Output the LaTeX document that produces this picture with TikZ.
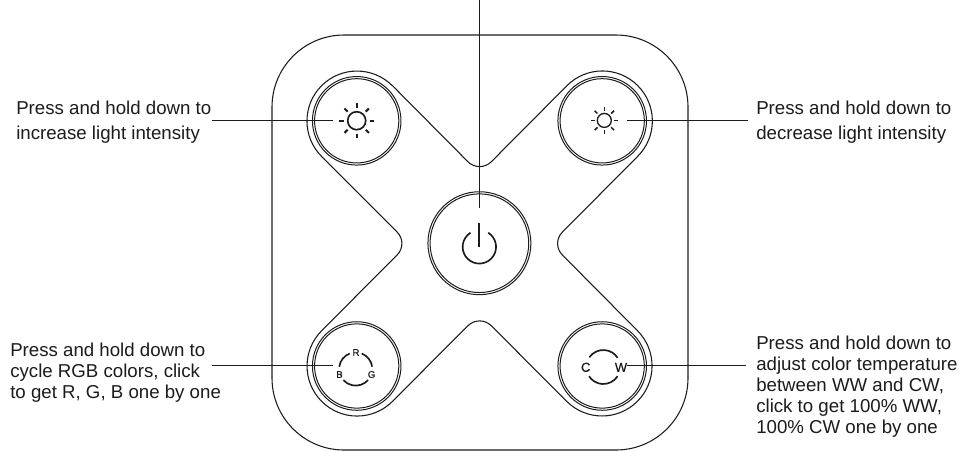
\documentclass[tikz,border=0pt]{standalone}
\usepackage{fontspec}
\setmainfont{Liberation Sans}
\newfontfamily\iconfont[FakeBold=0.5]{Liberation Sans}
\definecolor{ink}{gray}{0.11}
\tikzset{
  outline/.style={line width=0.8pt,draw=ink},
  lead/.style={line width=0.85pt,draw=ink},
  iconline/.style={line width=1.25pt,draw=ink},
  captionbase/.style={align=left,anchor=north west,inner sep=0pt,text=ink},
  caption/.style={captionbase,font=\fontsize{14pt}{15.75pt}\selectfont},
  captionwide/.style={captionbase,font=\fontsize{14pt}{18.8pt}\selectfont},
  ringa/.style={circle,draw=ink,line width=0.75pt,inner sep=0pt,minimum size=66.4pt},
  ringb/.style={circle,draw=ink,line width=0.75pt,inner sep=0pt,minimum size=63.2pt},
  ringc/.style={circle,draw=ink,line width=0.75pt,inner sep=0pt,minimum size=77.2pt},
  ringd/.style={circle,draw=ink,line width=0.75pt,inner sep=0pt,minimum size=74pt},
  letter/.style={font=\iconfont\fontsize{7.2pt}{8pt}\selectfont,inner sep=0pt,text=ink},
  bigletter/.style={font=\iconfont\fontsize{9.8pt}{10pt}\selectfont,inner sep=0pt,text=ink}
}
\begin{document}
\begin{tikzpicture}[x=0.75pt,y=-0.75pt]
\useasboundingbox (0,0) rectangle (959,451);
\fill[white] (0,0) rectangle (959,451);
% body
\draw[outline,rounded corners=54pt] (272,35) rectangle (688,450);
% X contour
\coordinate (tipT) at (479.6,173.5);
\coordinate (tipR) at (551,243.5);
\coordinate (tipB) at (479.6,314);
\coordinate (tipL) at (408.5,243.5);
\draw[outline]
  (392.4,85.6) [rounded corners=12.5pt] -- (tipT) [sharp corners] -- (567,85.6)
  arc[start angle=-135,end angle=45,radius=50] [rounded corners=12pt] -- (tipR) [sharp corners] -- (637.4,330.6)
  arc[start angle=-45,end angle=135,radius=50] [rounded corners=12.5pt] -- (tipB) [sharp corners] -- (392.4,401.4)
  arc[start angle=45,end angle=225,radius=50] [rounded corners=12pt] -- (tipL) [sharp corners] -- (321.6,156.4)
  arc[start angle=135,end angle=315,radius=50];
% buttons
\node[ringa] (tlA) at (356.7,120.8) {};
\node[ringb] (tlB) at (356.7,120.8) {};
\node[ringa] (trA) at (602.2,120.8) {};
\node[ringb] (trB) at (602.2,120.8) {};
\node[ringa] (blA) at (356.7,366) {};
\node[ringb] (blB) at (356.7,366) {};
\node[ringa] (brA) at (602.2,366) {};
\node[ringb] (brB) at (602.2,366) {};
\node[ringc] (cA) at (479.4,243.2) {};
\node[ringd] (cB) at (479.4,243.2) {};
% large sun
\begin{scope}[shift={(356.7,120.7)}]
  \draw[iconline] (0,0) circle[radius=9];
  \foreach \a in {0,45,...,315} \draw[iconline,line width=1.5pt] (\a:12.8) -- (\a:17.3);
\end{scope}
% small sun
\begin{scope}[shift={(604.3,120.4)}]
  \draw[iconline,line width=1pt] (0,0) circle[radius=7];
  \foreach \a in {0,45,...,315} \draw[iconline,line width=1.15pt] (\a:9.7) -- (\a:13.7);
\end{scope}
% power
\draw[iconline] (488.2,232.7) arc[start angle=-58,end angle=238,radius=16.7];
\draw[iconline] (479.3,223.3) -- (479.3,246.7);
% RGB
\begin{scope}[shift={(355.7,369)}]
  \draw[iconline] (-111:16.6) arc[start angle=-111,end angle=-172,radius=16.6];
  \draw[iconline] (-69:16.6) arc[start angle=-69,end angle=-8,radius=16.6];
  \draw[iconline] (42:16.6) arc[start angle=42,end angle=138,radius=16.6];
\end{scope}
\node[letter] (lR) at (356,352.5) {R};
\node[letter] (lB) at (339.5,374.5) {B};
\node[letter] (lG) at (371.5,374.5) {G};
% CW
\begin{scope}[shift={(603.3,367)}]
  \draw[iconline] (-145:17) arc[start angle=-145,end angle=-33,radius=17];
  \draw[iconline] (33:17) arc[start angle=33,end angle=147,radius=17];
\end{scope}
\node[bigletter] (lC) at (585.7,367.3) {C};
\node[bigletter] (lW) at (621,367.3) {W};
% captions
\node[captionwide] (c1) at (16,101) {Press and hold down to\\increase light intensity};
\node[captionwide] (c2) at (756,101) {Press and hold down to\\decrease light intensity};
\node[caption] (c3) at (10,342.4) {Press and hold down to\\cycle RGB colors, click\\to get R, G, B one by one};
\node[caption] (c4) at (756,336) {Press and hold down to\\adjust color temperature\\between WW and CW,\\click to get 100\% WW,\\100\% CW one by one};
% leaders
\coordinate (topend) at (479.3,0);
\coordinate (e1) at (332.7,120.5);
\coordinate (s1) at (212,120.5);
\coordinate (e2) at (627.3,120.5);
\coordinate (s2) at (748,120.5);
\coordinate (e3) at (332.7,365.5);
\coordinate (s3) at (212,365.5);
\coordinate (e4) at (627.3,365.5);
\coordinate (s4) at (746,365.5);
\coordinate (e0) at (479.3,207.5);
\draw[lead] (topend) -- (e0);
\draw[lead] (s1) -- (e1);
\draw[lead] (e2) -- (s2);
\draw[lead] (s3) -- (e3);
\draw[lead] (e4) -- (s4);
\end{tikzpicture}
\end{document}
